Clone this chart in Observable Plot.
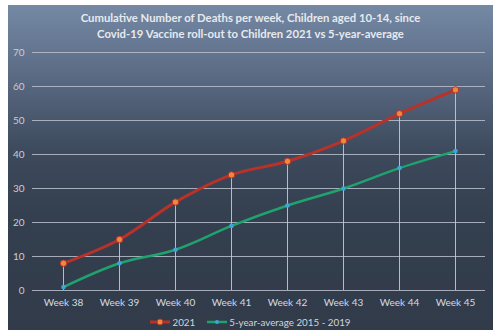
<!DOCTYPE html>
<html>
<head>
<meta charset="utf-8">
<script src="https://cdn.jsdelivr.net/npm/d3@7"></script>
<script src="https://cdn.jsdelivr.net/npm/@observablehq/plot@0.6"></script>
<style>
  html, body { margin: 0; padding: 0; background: #ffffff; width: 500px; height: 330px; overflow: hidden; }
  #chart {
    position: absolute; left: 8px; top: 5px; width: 485px; height: 325px;
    background: linear-gradient(180deg, #7589a5 0%, #5a6a83 22%, #3d4a5d 45%, #343f4f 65%, #313b4a 100%);
    font-family: Lato, "Open Sans", sans-serif;
  }
  #title {
    position: absolute; left: 0; top: 5px; width: 485px; text-align: center;
    color: #e6eaef; font-weight: bold; font-size: 11.3px; line-height: 16px;
  }
  #plot { position: absolute; left: 0; top: 37px; }
  #legend {
    position: absolute; left: 0; top: 310px; width: 485px; text-align: center;
    color: #d2d6dc; font-size: 9.8px; line-height: 14px;
  }
  #legend span.item { display: inline-flex; align-items: center; margin: 0 6px; }
  #legend svg { margin-right: 2px; }
</style>
</head>
<body>
<div id="chart">
  <div id="title">Cumulative Number of Deaths per week, Children aged 10-14, since<br>Covid-19 Vaccine roll-out to Children 2021 vs 5-year-average</div>
  <div id="plot"></div>
  <div id="legend"></div>
</div>
<script>
const weeks = ["Week 38", "Week 39", "Week 40", "Week 41", "Week 42", "Week 43", "Week 44", "Week 45"];
const deaths2021 = [8, 15, 26, 34, 38, 44, 52, 59];
const avg5yr = [1, 8, 12, 19, 25, 30, 36, 41];
const yTicks = [0, 10, 20, 30, 40, 50, 60, 70];
const seriesNames = ["2021", "5-year-average 2015 - 2019"];

const rows2021 = weeks.map((w, i) => ({week: w, value: deaths2021[i]}));
const rowsAvg = weeks.map((w, i) => ({week: w, value: avg5yr[i]}));
const drops = weeks.map((w, i) => ({week: w, top: Math.max(deaths2021[i], avg5yr[i])}));

const red = "#b8322a", orange = "#ec8a3c", green = "#1fa36e", blue = "#3ea6d8";

const plot = Plot.plot({
  width: 485,
  height: 273,
  marginTop: 10,
  marginBottom: 25,
  marginLeft: 24,
  marginRight: 8,
  style: {background: "transparent", fontFamily: "Lato, 'Open Sans', sans-serif", fontSize: "10px", color: "#d0d5dc"},
  x: {domain: weeks, type: "point", padding: 0.5, label: null},
  y: {domain: [0, 70], ticks: yTicks, label: null},
  marks: [
    Plot.gridY(yTicks, {stroke: "#b8c0cc", strokeOpacity: 0.85, strokeWidth: 1}),
    Plot.axisY(yTicks, {tickSize: 0, tickPadding: 8, label: null, fill: "#c8cdd5", fontSize: 10}),
    Plot.axisX({tickSize: 0, tickPadding: 8, label: null, fill: "#d6dae0", fontSize: 10}),
    Plot.ruleX(drops, {x: "week", y1: 0, y2: "top", stroke: "#c4cad4", strokeWidth: 1, strokeOpacity: 0.9}),
    Plot.line(rowsAvg, {x: "week", y: "value", stroke: green, strokeWidth: 2.5, curve: "catmull-rom"}),
    Plot.dot(rowsAvg, {x: "week", y: "value", r: 2.3, fill: blue, stroke: "none"}),
    Plot.line(rows2021, {x: "week", y: "value", stroke: red, strokeWidth: 3, curve: "catmull-rom"}),
    Plot.dot(rows2021, {x: "week", y: "value", r: 3.2, fill: orange, stroke: red, strokeWidth: 1})
  ]
});
document.getElementById("plot").appendChild(plot);

const legend = document.getElementById("legend");
const swatch = [[red, orange, red, 3, 3], [green, blue, "none", 2.5, 2]];
seriesNames.forEach((name, i) => {
  const [lc, fc, sc, lw, r] = swatch[i];
  const item = document.createElement("span");
  item.className = "item";
  item.innerHTML = `<svg width="20" height="10"><line x1="0" y1="5" x2="20" y2="5" stroke="${lc}" stroke-width="${lw}"/><circle cx="10" cy="5" r="${r}" fill="${fc}" stroke="${sc}" stroke-width="1"/></svg>${name}`;
  legend.appendChild(item);
});
</script>
</body>
</html>
